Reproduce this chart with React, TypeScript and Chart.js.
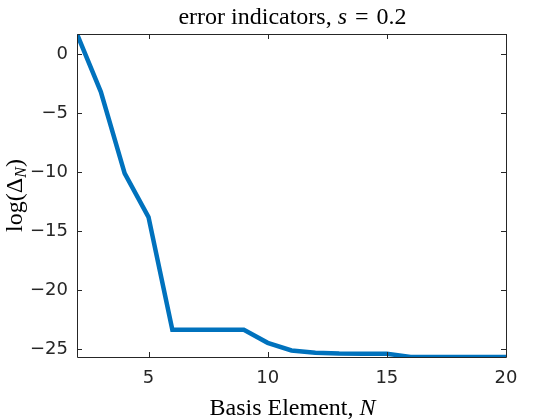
import React, { useEffect, useRef } from "react";
import { Chart, registerables } from "chart.js";

Chart.register(...registerables);

const basisN = [2, 3, 4, 5, 6, 7, 8, 9, 10, 11, 12, 13, 14, 15, 16, 17, 18, 19, 20];
const logDelta = [1.7, -3.2, -10.1, -13.8, -23.35, -23.35, -23.35, -23.35, -24.45, -25.1, -25.28, -25.35, -25.37, -25.37, -25.65, -25.65, -25.65, -25.65, -25.65];
const xTicks = [5, 10, 15, 20];
const yTicks = [-25, -20, -15, -10, -5, 0];

const SERIF = "'Liberation Serif', 'DejaVu Serif', serif";
const SANS = "'DejaVu Sans', sans-serif";
const AXIS_COLOR = "#262626";

function drawParts(ctx: CanvasRenderingContext2D, parts: { t: string; font: string; dy?: number }[], cx: number, cy: number) {
  let total = 0;
  for (const p of parts) {
    ctx.font = p.font;
    total += ctx.measureText(p.t).width;
  }
  let x = cx - total / 2;
  for (const p of parts) {
    ctx.font = p.font;
    ctx.fillText(p.t, x, cy + (p.dy || 0));
    x += ctx.measureText(p.t).width;
  }
}

const decorPlugin = {
  id: "decor",
  afterDraw(chart: any) {
    const { ctx, chartArea } = chart;
    const { left, right, top, bottom } = chartArea;
    const xs = chart.scales.x;
    const ys = chart.scales.y;
    ctx.save();
    ctx.strokeStyle = AXIS_COLOR;
    ctx.lineWidth = 1;
    ctx.beginPath();
    ctx.rect(Math.round(left) + 0.5, Math.round(top) + 0.5, Math.round(right - left), Math.round(bottom - top));
    const tl = 5;
    for (const v of xTicks) {
      const px = Math.round(xs.getPixelForValue(v)) + 0.5;
      ctx.moveTo(px, bottom);
      ctx.lineTo(px, bottom - tl);
      ctx.moveTo(px, top);
      ctx.lineTo(px, top + tl);
    }
    for (const v of yTicks) {
      const py = Math.round(ys.getPixelForValue(v)) + 0.5;
      ctx.moveTo(left, py);
      ctx.lineTo(left + tl, py);
      ctx.moveTo(right, py);
      ctx.lineTo(right - tl, py);
    }
    ctx.stroke();

    ctx.fillStyle = "#000";
    ctx.textBaseline = "alphabetic";
    ctx.textAlign = "left";
    const cx = (left + right) / 2;
    drawParts(
      ctx,
      [
        { t: "error indicators, ", font: `24px ${SERIF}` },
        { t: "s", font: `italic 24px ${SERIF}` },
        { t: "\u2004=\u20040.2", font: `24px ${SERIF}` },
      ],
      cx + 1,
      24
    );
    drawParts(
      ctx,
      [
        { t: "Basis Element, ", font: `24px ${SERIF}` },
        { t: "N", font: `italic 24px ${SERIF}` },
      ],
      cx + 1,
      415
    );
    ctx.translate(22, (top + bottom) / 2);
    ctx.rotate(-Math.PI / 2);
    drawParts(
      ctx,
      [
        { t: "log(Δ", font: `24px ${SERIF}` },
        { t: "N", font: `italic 16px ${SERIF}`, dy: 4 },
        { t: ")", font: `24px ${SERIF}` },
      ],
      0,
      0
    );
    ctx.restore();
  },
};

export default function App() {
  const ref = useRef<HTMLCanvasElement | null>(null);
  useEffect(() => {
    if (!ref.current) return;
    const chart = new Chart(ref.current, {
      type: "line",
      data: {
        datasets: [
          {
            data: basisN.map((n, i) => ({ x: n, y: logDelta[i] })),
            borderColor: "#0072BD",
            borderWidth: 4.5,
            pointRadius: 0,
            fill: false,
            tension: 0,
          },
        ],
      },
      options: {
        animation: false,
        responsive: false,
        layout: { padding: { left: 0, right: 54, top: 34, bottom: 0 } },
        plugins: { legend: { display: false }, title: { display: false }, tooltip: { enabled: false } },
        scales: {
          x: {
            type: "linear",
            min: 2,
            max: 20,
            grid: { display: false, drawTicks: false },
            border: { display: false },
            afterBuildTicks: (s: any) => {
              s.ticks = xTicks.map((v) => ({ value: v }));
            },
            afterFit: (s: any) => {
              s.height = 63;
            },
            ticks: {
              color: AXIS_COLOR,
              font: { family: SANS, size: 18 },
              padding: 11,
              maxRotation: 0,
              callback: (v: any) => String(v).replace("-", "\u2212"),
            },
          },
          y: {
            type: "linear",
            min: -25.65,
            max: 1.7,
            grid: { display: false, drawTicks: false },
            border: { display: false },
            afterBuildTicks: (s: any) => {
              s.ticks = yTicks.map((v) => ({ value: v }));
            },
            afterFit: (s: any) => {
              s.width = 77;
            },
            ticks: {
              color: AXIS_COLOR,
              font: { family: SANS, size: 18 },
              padding: 9,
              callback: (v: any) => String(v).replace("-", "\u2212"),
            },
          },
        },
      },
      plugins: [decorPlugin],
    });
    return () => chart.destroy();
  }, []);
  return (
    <div style={{ position: "fixed", left: 0, top: 0, width: 560, height: 420, background: "#fff" }}>
      <canvas ref={ref} width={560} height={420} />
    </div>
  );
}
